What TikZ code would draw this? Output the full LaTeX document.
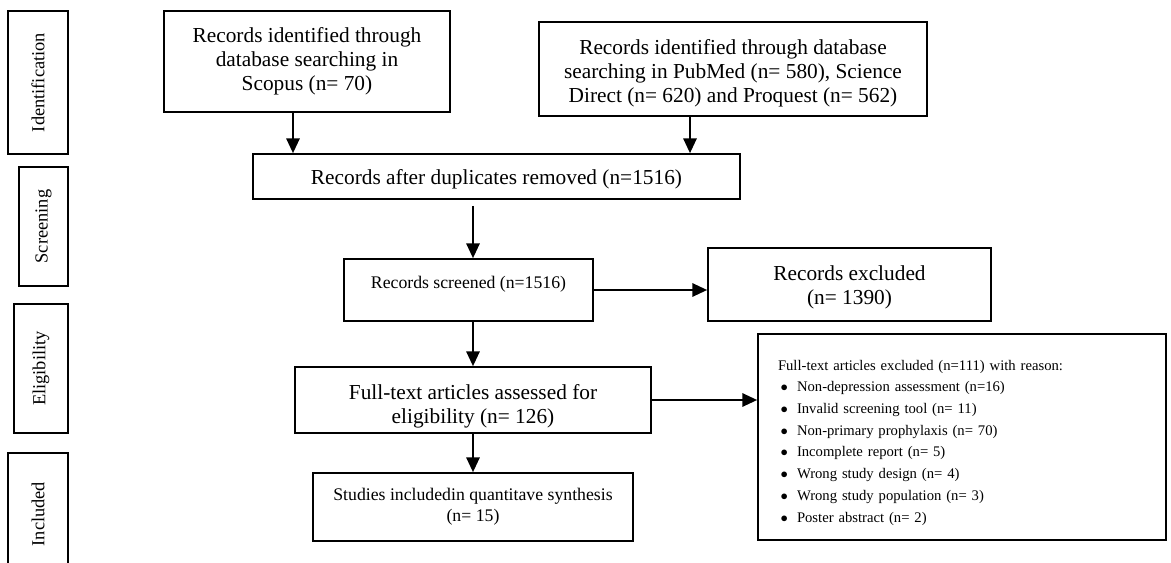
\documentclass[tikz,border=0pt]{standalone}
\usepackage{fontspec}
\setmainfont{Liberation Serif}
\usetikzlibrary{arrows.meta}

\providecommand{\fase}[5]{
    \node[fase, minimum width=#4, minimum height=#5] (#1) at (#2) {#3};
}
\providecommand{\razon}[1]{\makebox[14.25pt][l]{\hspace{2pt}$\bullet$}#1}

\begin{document}
\begin{tikzpicture}[
    x=0.75pt, y=-0.75pt,
    >={Triangle[length=11pt, width=10pt]},
    caja/.style={draw, line width=1.3pt, inner sep=0pt, align=center, font=\fontsize{16}{18}\selectfont},
    cajachica/.style={caja, font=\fontsize{13.3}{15.8}\selectfont},
    fase/.style={draw, line width=1.3pt, inner sep=0pt, rotate=90, font=\fontsize{13.8}{16}\selectfont},
    flecha/.style={->, line width=1.2pt}
]
    \clip (0,0) rectangle (1171,563);

    % FASES A LA IZQUIERDA
    \fase{ID}{38,82.5}{Identification}{107.25pt}{45pt}
    \fase{SC}{43.5,226.5}{Screening}{89.25pt}{36.75pt}
    \fase{EL}{41,368.5}{Eligibility}{96.75pt}{40.5pt}
    \fase{IN}{38,514}{Included}{91.5pt}{45pt}

    % BUSQUEDA EN BASES DE DATOS
    \node[caja, minimum width=214.5pt, minimum height=75.75pt] (scopus) at (307,61.5)
        {Records identified through\\database searching in\\Scopus (n= 70)};
    \node[caja, minimum width=291pt, minimum height=70.5pt] (pubmed) at (733,69)
        {\rule{0pt}{18pt}Records identified through database\\searching in PubMed (n= 580), Science\\Direct (n= 620) and Proquest (n= 562)};

    % CRIBADO
    \node[caja, minimum width=365.25pt, minimum height=33.75pt] (dup) at (496.5,176.5)
        {\rule{0pt}{16pt}Records after duplicates removed (n=1516)};
    \node[cajachica, minimum width=186.75pt, minimum height=46.5pt, text depth=11pt] (screened) at (468.5,290)
        {Records screened (n=1516)};
    \node[caja, minimum width=212.25pt, minimum height=54.75pt] (excluded) at (849.5,284.5)
        {\rule{0pt}{16pt}Records excluded\\(n= 1390)};

    % ELEGIBILIDAD E INCLUSION
    \node[caja, minimum width=267pt, minimum height=49.5pt] (fulltext) at (473,400)
        {\rule{0pt}{21pt}Full-text articles assessed for\\eligibility (n= 126)};
    \node[cajachica, minimum width=240pt, minimum height=51pt] (studies) at (473,507)
        {Studies includedin quantitave synthesis\\(n= 15)};
    \node[caja, minimum width=306pt, minimum height=154.5pt, align=left, text width=276pt,
        font=\fontsize{11}{16.3}\selectfont] (razones) at (962,437)
        {\rule{0pt}{16pt}Full-text articles excluded (n=111) with reason:\\
        \razon{Non-depression assessment (n=16)}\\
        \razon{Invalid screening tool (n= 11)}\\
        \razon{Non-primary prophylaxis (n= 70)}\\
        \razon{Incomplete report (n= 5)}\\
        \razon{Wrong study design (n= 4)}\\
        \razon{Wrong study population (n= 3)}\\
        \razon{Poster abstract (n= 2)}};

    % FLECHAS
    \draw[flecha] ([xshift=-10.5pt]scopus.south) -- ([xshift=-10.5pt]scopus.south |- dup.north);
    \draw[flecha] ([xshift=-32.25pt]pubmed.south) -- ([xshift=-32.25pt]pubmed.south |- dup.north);
    \draw[flecha] ([yshift=-4.5pt]dup.south -| fulltext) -- (screened.north -| fulltext);
    \draw[flecha] (screened.east) -- (screened.east -| excluded.west);
    \draw[flecha] (screened.south -| fulltext) -- (fulltext.north);
    \draw[flecha] (fulltext.east) -- (fulltext.east -| razones.west);
    \draw[flecha] (fulltext.south) -- (studies.north);

\end{tikzpicture}
\end{document}
